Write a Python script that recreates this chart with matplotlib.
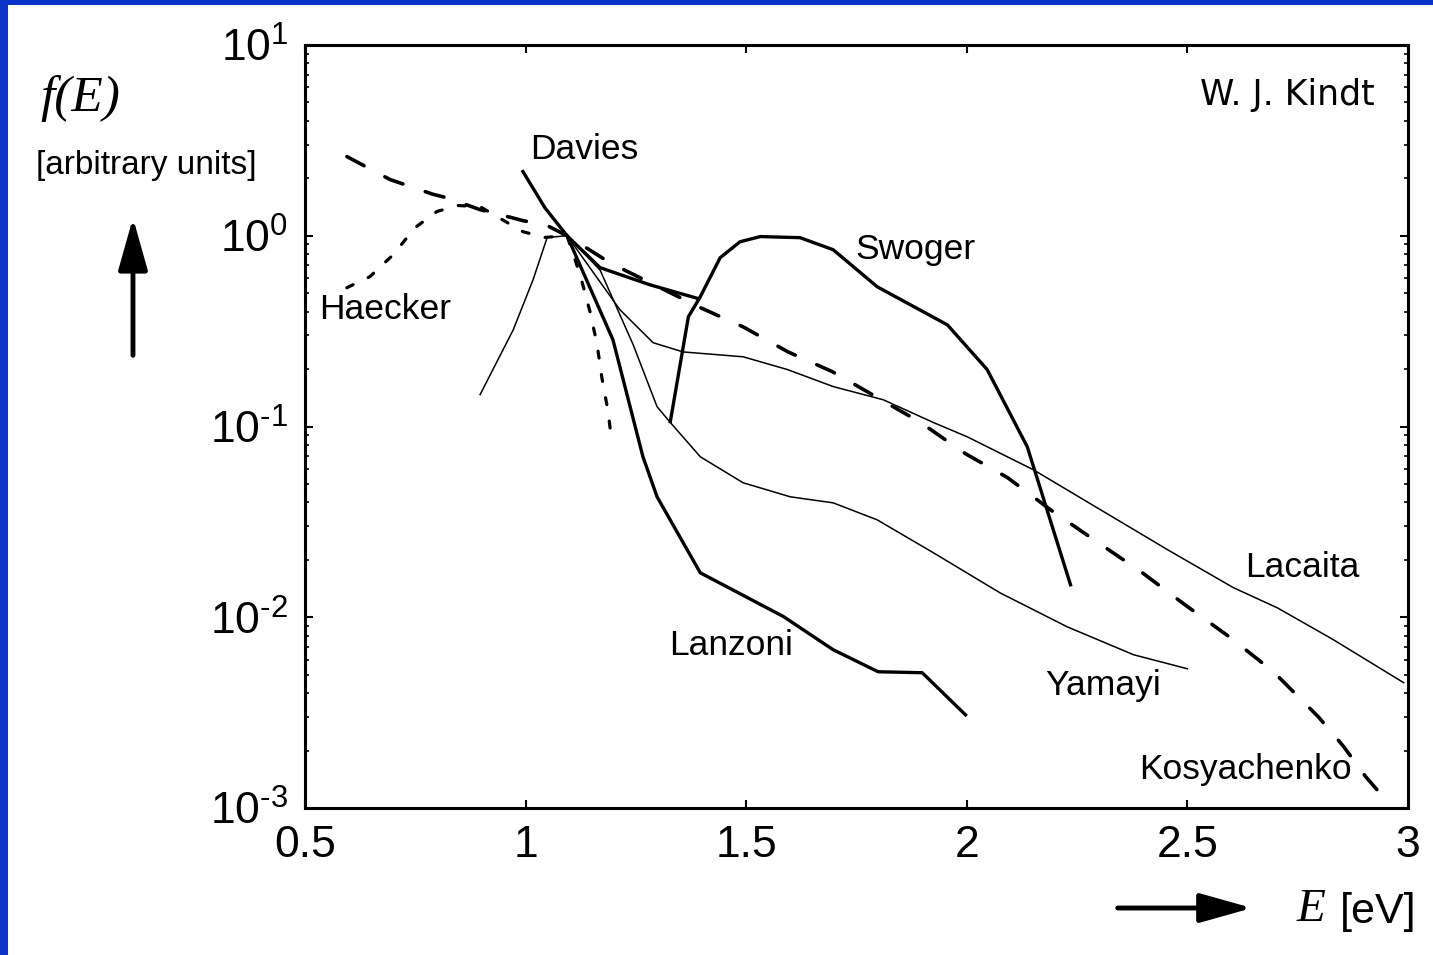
import matplotlib
matplotlib.use('Agg')
import matplotlib.pyplot as plt
from matplotlib import font_manager
from matplotlib.ticker import LogLocator, NullFormatter, FixedLocator

# police étroite si disponible
names = {f.name for f in font_manager.fontManager.ttflist}
narrow = 'Liberation Sans Narrow' if 'Liberation Sans Narrow' in names else 'Liberation Sans'
plt.rcParams['font.family'] = [narrow, 'DejaVu Sans']
plt.rcParams['mathtext.fontset'] = 'custom'
plt.rcParams['mathtext.rm'] = narrow
plt.rcParams['lines.scale_dashes'] = False

# Données (E en eV, f(E) en unités arbitraires)
kosy_E = [0.595, 0.693, 0.79, 0.822, 0.897, 0.954, 0.994, 1.046, 1.094, 1.192, 1.396, 1.493, 1.595,
          1.695, 1.797, 1.895, 1.997, 2.092, 2.196, 2.298, 2.398, 2.495, 2.598, 2.695, 2.797,
          2.854, 2.904, 2.95]
kosy_f = [2.6, 1.97, 1.65, 1.58, 1.37, 1.27, 1.2, 1.14, 1.0, 0.72, 0.42, 0.333, 0.246,
          0.194, 0.142, 0.105, 0.072, 0.054, 0.0357, 0.0246, 0.0171, 0.0116, 0.0078, 0.00518, 0.003,
          0.0021, 0.00146, 0.0011]

haecker_E = [0.595, 0.647, 0.70, 0.749, 0.799, 0.847, 0.897, 0.994, 1.044, 1.094, 1.124, 1.146,
             1.162, 1.173, 1.187, 1.196]
haecker_f = [0.534, 0.61, 0.795, 1.10, 1.34, 1.44, 1.42, 1.05, 0.98, 1.0, 0.62, 0.40,
             0.27, 0.18, 0.12, 0.081]

davies_E = [0.994, 1.044, 1.094, 1.169, 1.282, 1.389]
davies_f = [2.17, 1.40, 1.0, 0.68, 0.553, 0.47]

lanzoni_E = [1.094, 1.198, 1.266, 1.298, 1.396, 1.584, 1.697, 1.799, 1.899, 1.997]
lanzoni_f = [1.0, 0.285, 0.0694, 0.0428, 0.0171, 0.0101, 0.00676, 0.00518, 0.00512, 0.00308]

lacaita_E = [0.897, 0.972, 1.017, 1.049, 1.094, 1.214, 1.289, 1.357, 1.493, 1.593, 1.697, 1.811,
             1.924, 2.001, 2.151, 2.303, 2.455, 2.604, 2.704, 2.831, 2.99]
lacaita_f = [0.147, 0.321, 0.588, 0.98, 1.0, 0.409, 0.275, 0.246, 0.232, 0.199, 0.162, 0.138,
             0.105, 0.0883, 0.0593, 0.0366, 0.0226, 0.0143, 0.0112, 0.00762, 0.00454]

yamayi_E = [1.094, 1.169, 1.244, 1.298, 1.328, 1.396, 1.493, 1.60, 1.697, 1.797, 1.924, 2.076,
            2.228, 2.378, 2.5]
yamayi_f = [1.0, 0.66, 0.268, 0.127, 0.105, 0.0694, 0.0507, 0.0428, 0.0398, 0.0324, 0.0218, 0.0134,
            0.0089, 0.00636, 0.00537]

swoger_E = [1.328, 1.369, 1.396, 1.441, 1.486, 1.532, 1.622, 1.697, 1.797, 1.956, 2.046, 2.137, 2.235]
swoger_f = [0.106, 0.376, 0.479, 0.767, 0.93, 0.99, 0.977, 0.845, 0.54, 0.341, 0.199, 0.0783, 0.0148]

# étiquettes des courbes
labels = ['Davies', 'Haecker', 'Swoger', 'Lanzoni', 'Lacaita', 'Yamayi', 'Kosyachenko']
label_E = [1.010, 0.681, 1.883, 1.466, 2.761, 2.310, 2.631]
label_f = [2.82, 0.409, 0.845, 0.0071, 0.0182, 0.00437, 0.00159]
label_ha = ['left', 'center', 'center', 'center', 'center', 'center', 'center']

xticks = [0.5, 1, 1.5, 2, 2.5, 3]
xticklabels = ['0.5', '1', '1.5', '2', '2.5', '3']
yticks = [1e-3, 1e-2, 1e-1, 1e0, 1e1]
yticklabels = ['$\\mathregular{10^{\u20103}}$', '$\\mathregular{10^{\u20102}}$',
               '$\\mathregular{10^{\u20101}}$', '$\\mathregular{10^{0}}$', '$\\mathregular{10^{1}}$']

fig = plt.figure(figsize=(14.33, 9.55), dpi=100)
fig.patch.set_facecolor('white')
ax = fig.add_axes([0.2128, 0.1539, 0.9826 - 0.2128, 0.9529 - 0.1539])

thick = 2.4
thin = 1.1
ax.plot(kosy_E, kosy_f, color='black', lw=2.6, dashes=(14, 17), dash_capstyle='round')
ax.plot(haecker_E, haecker_f, color='black', lw=2.3, dashes=(5, 12), dash_capstyle='round')
ax.plot(davies_E, davies_f, color='black', lw=thick)
ax.plot(lanzoni_E, lanzoni_f, color='black', lw=thick)
ax.plot(swoger_E, swoger_f, color='black', lw=thick)
ax.plot(lacaita_E, lacaita_f, color='black', lw=thin)
ax.plot(yamayi_E, yamayi_f, color='black', lw=thin)

for txt, e, f, ha in zip(labels, label_E, label_f, label_ha):
    ax.text(e, f, txt, fontsize=25.5, ha=ha, va='center')

ax.set_yscale('log')
ax.set_xlim(0.5, 3)
ax.set_ylim(1e-3, 1e1)
ax.xaxis.set_major_locator(FixedLocator(xticks))
ax.set_xticklabels(xticklabels)
ax.yaxis.set_major_locator(FixedLocator(yticks))
ax.set_yticklabels(yticklabels)
ax.yaxis.set_minor_locator(LogLocator(base=10, subs=range(2, 10), numticks=20))
ax.yaxis.set_minor_formatter(NullFormatter())
ax.tick_params(axis='both', which='major', direction='in', top=True, right=True,
               length=6, width=1.5, labelsize=32, pad=12)
ax.tick_params(axis='y', which='minor', direction='in', right=True, length=3, width=1.2)
for s in ax.spines.values():
    s.set_linewidth(2.2)

ax.text(0.97, 0.935, 'W. J. Kindt', transform=ax.transAxes, ha='right', va='center',
        fontsize=25, family='DejaVu Sans')

# titres des axes et flèches
fig.text(0.028, 0.897, 'f(E)', fontsize=37, family='Liberation Serif', style='italic',
         ha='left', va='center')
fig.text(0.025, 0.827, '[arbitrary units]', fontsize=24, ha='left', va='center')
fig.text(0.905, 0.047, 'E', fontsize=34, family='Liberation Serif', style='italic',
         ha='left', va='center')
fig.text(0.935, 0.045, '[eV]', fontsize=31, ha='left', va='center')
ax.annotate('', xy=(0.0928, 0.772), xytext=(0.0928, 0.628), xycoords='figure fraction',
            textcoords='figure fraction',
            arrowprops=dict(arrowstyle='-|>,head_length=1.6,head_width=0.45', lw=3.5,
                            color='black', mutation_scale=20, shrinkA=0, shrinkB=0))
ax.annotate('', xy=(0.8737, 0.0492), xytext=(0.780, 0.0492), xycoords='figure fraction',
            textcoords='figure fraction',
            arrowprops=dict(arrowstyle='-|>,head_length=1.6,head_width=0.45', lw=3.5,
                            color='black', mutation_scale=20, shrinkA=0, shrinkB=0))

# cadre bleu de la diapositive
blue = '#0a33c8'
fig.add_artist(plt.Rectangle((0, 0), 8 / 1433, 1, transform=fig.transFigure, color=blue, lw=0))
fig.add_artist(plt.Rectangle((0, 1 - 5 / 955), 1, 5 / 955, transform=fig.transFigure, color=blue, lw=0))

fig.savefig('out.png', dpi=100)
